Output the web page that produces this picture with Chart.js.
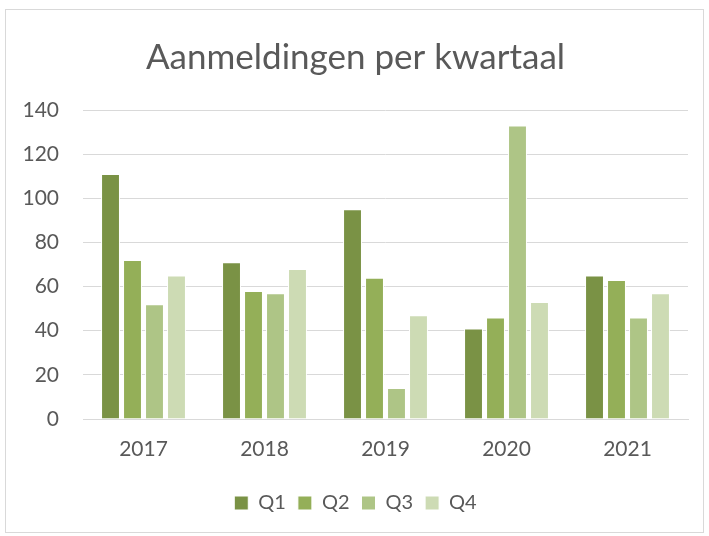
<!DOCTYPE html>
<html>
<head>
<meta charset="utf-8">
<script src="https://cdn.jsdelivr.net/npm/chart.js@4"></script>
<style>
  html, body { margin: 0; padding: 0; background: #fff; }
  #wrap { position: relative; width: 709px; height: 536px; }
  #frame { position: absolute; left: 5px; top: 9px; width: 699px; height: 524px; border: 1px solid #d9d9d9; box-sizing: border-box; }
  canvas { position: absolute; left: 0; top: 0; }
</style>
</head>
<body>
<div id="wrap">
  <div id="frame"></div>
  <canvas id="chart" width="709" height="536"></canvas>
</div>
<script>
// ── Data ──
const JAREN = ["2017", "2018", "2019", "2020", "2021"];
const Q1 = [111, 71, 95, 41, 65];
const Q2 = [72, 58, 64, 46, 63];
const Q3 = [52, 57, 14, 133, 46];
const Q4 = [65, 68, 47, 53, 57];
const KLEUREN = ["#7a9245", "#94af58", "#aec586", "#cddbb4"];

const FONT = "Lato, 'Open Sans', sans-serif";
const TEKST = "#595959";
const GRID = "#d9d9d9";

const series = [["Q1", Q1], ["Q2", Q2], ["Q3", Q3], ["Q4", Q4]];

new Chart(document.getElementById("chart"), {
  type: "bar",
  data: {
    labels: JAREN,
    datasets: series.map(([naam, waarden], i) => ({
      label: naam,
      data: waarden,
      backgroundColor: KLEUREN[i],
      borderColor: "#ffffff",
      borderWidth: 1,
      categoryPercentage: 0.727,
      barPercentage: 0.86
    }))
  },
  options: {
    responsive: false,
    animation: false,
    // y labels get clipped to the axis box, so left padding can't go much higher
    layout: { padding: { left: 23, right: 21, top: 10, bottom: 13 } },
    plugins: {
      title: {
        display: true,
        text: "Aanmeldingen per kwartaal",
        color: TEKST,
        font: { family: FONT, size: 35, weight: "normal" },
        padding: { top: 27, bottom: 31 }
      },
      legend: {
        position: "bottom",
        labels: {
          color: TEKST,
          font: { family: FONT, size: 20 },
          boxWidth: 14,
          boxHeight: 14,
          padding: 12
        }
      },
      tooltip: { enabled: false }
    },
    scales: {
      x: {
        grid: { display: false, drawTicks: false },
        border: { color: GRID, width: 1 },
        ticks: { color: TEKST, font: { family: FONT, size: 21 }, padding: 18 },
        afterFit: s => { s.height = 62; }
      },
      y: {
        min: 0,
        max: 140,
        ticks: { stepSize: 20, color: TEKST, font: { family: FONT, size: 21 }, padding: 24 },
        grid: { color: GRID, lineWidth: 1, drawTicks: false },
        border: { display: false },
        afterFit: s => { s.width = 60; }
      }
    }
  }
});
</script>
</body>
</html>
